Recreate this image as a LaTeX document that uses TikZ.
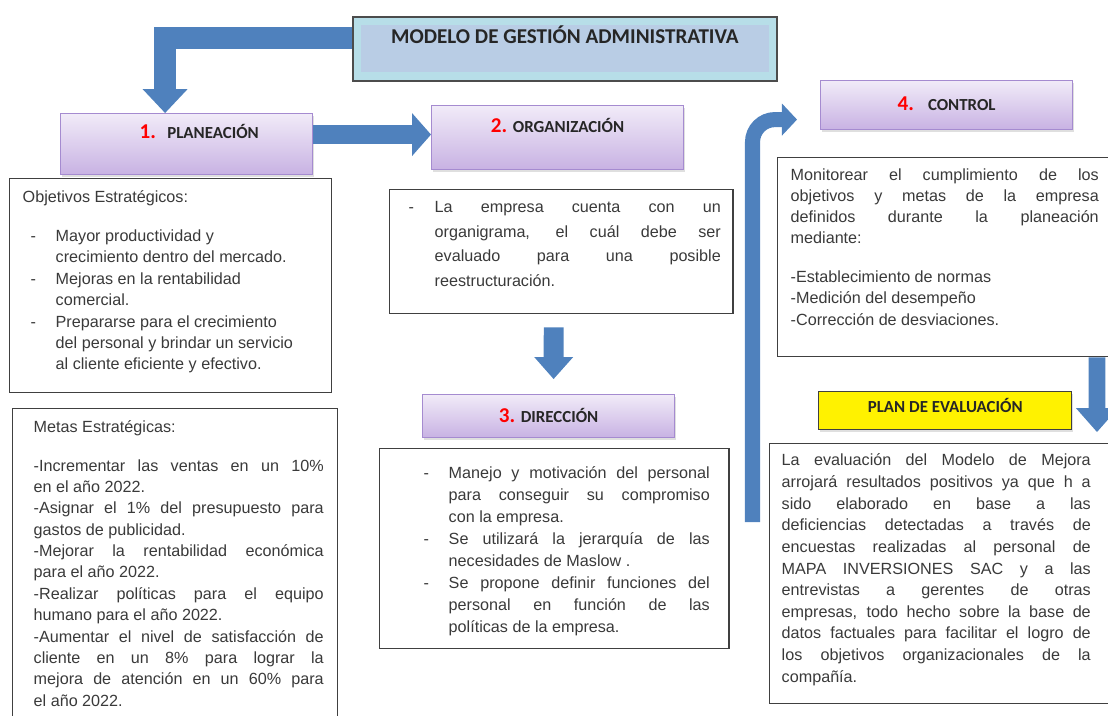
\documentclass[tikz,border=0pt]{standalone}
\usepackage{fontspec}
\setmainfont{Liberation Sans}
\newfontfamily\carlito{Carlito}
\usetikzlibrary{calc,arrows.meta,shadows}
\definecolor{azul}{HTML}{4F81BD}
\definecolor{lila}{HTML}{A58BD0}
\definecolor{lilaclaro}{HTML}{F1EBF8}
\definecolor{lilaoscuro}{HTML}{C8B2E3}
\definecolor{celeste}{HTML}{B7DEE8}
\definecolor{grisazul}{HTML}{B9CDE5}
\definecolor{texto}{HTML}{3A3A3A}
\hyphenpenalty=10000 \exhyphenpenalty=10000
\tolerance=10000 \hbadness=10000
\def\guion#1{\par\noindent\llap{\makebox[#1][l]{-}}}
\def\numero#1{{\fontsize{15}{15}\selectfont\color{red}#1}}

\begin{document}
\begin{tikzpicture}[x=0.025cm,y=-0.025cm,
	fase/.style={draw=lila, line width=0.8pt, top color=lilaclaro, bottom color=lilaoscuro,
		drop shadow={opacity=0.25, shadow xshift=1pt, shadow yshift=-1.5pt},
		anchor=north west, inner sep=0pt, minimum width=6.3cm, text=black!85,
		font=\carlito\bfseries\fontsize{12}{12}\selectfont},
	caja/.style={draw=black!75, line width=1pt, fill=white, anchor=north west,
		inner sep=0pt, text=texto, font=\fontsize{11.5}{15}\selectfont},
	flecha/.style={draw=azul, line width=#1, line join=miter}]
			%%%%% START %%%%%
			\useasboundingbox (0,0) rectangle (1108,715);
			
			% titulo
			\node[anchor=north west, draw=black!70, line width=1.2pt, fill=celeste, inner sep=0pt,
				minimum width=10.6cm, text height=0.675cm, text depth=0.925cm,
				drop shadow={opacity=0.3, shadow xshift=1pt, shadow yshift=-1pt},
				font=\carlito\bfseries\fontsize{15}{15}\selectfont, text=black!85,
				path picture={\fill[grisazul] ([shift={(6pt,-6pt)}]path picture bounding box.north west)
					rectangle ([shift={(-6pt,6pt)}]path picture bounding box.south east);}]
				(titulo) at (352,16) {MODELO DE GESTIÓN ADMINISTRATIVA};
			
			% fases
			\node[fase, text height=0.625cm, text depth=0.9cm] (planeacion) at (60,113)
				{\hspace*{18pt}\numero{1.}\hspace{8pt}PLANEACIÓN};
			\node[fase, text height=0.675cm, text depth=0.925cm] (organizacion) at (431,105)
				{\numero{2.}\hspace{4pt}ORGANIZACIÓN};
			\node[fase, text height=0.7cm, text depth=0.375cm] (direccion) at (422,394)
				{\numero{3.}\hspace{4pt}DIRECCIÓN};
			\node[fase, text height=0.75cm, text depth=0.475cm] (control) at (820,80)
				{\numero{4.}\hspace{10pt}CONTROL};
			\node[anchor=north west, draw=black!75, line width=1pt, fill=yellow, inner sep=0pt,
				minimum width=6.325cm, text height=0.525cm, text depth=0.425cm,
				drop shadow={opacity=0.25, shadow xshift=1pt, shadow yshift=-1.5pt},
				font=\carlito\bfseries\fontsize{12}{12}\selectfont, text=black!85]
				(plan) at (818,391) {PLAN DE EVALUACIÓN};
			
			% cajas de texto
			\node[caja] (objetivos) at (9,178) {\parbox[t][5.35cm][t]{8.05cm}{%
				\baselineskip=15.2pt\vspace*{8.5pt}\leftskip=0.325cm
				Objetivos Estratégicos:\par\vspace{12.5pt}\leftskip=1.15cm
				\guion{0.625cm}Mayor productividad y\newline crecimiento dentro del mercado.
				\guion{0.625cm}Mejoras en la rentabilidad\newline comercial.
				\guion{0.625cm}Prepararse para el crecimiento\newline del personal y brindar un servicio\newline al cliente eficiente y efectivo.}};
			
			\node[caja] (metas) at (12,408) {\parbox[t][7.925cm][t]{8.125cm}{%
				\baselineskip=15.2pt\leftskip=0.525cm\rightskip=0.35cm\vspace*{8.5pt}
				Metas Estratégicas:\par\vspace{12.2pt}
				-Incrementar las ventas en un 10\%\linebreak en el año 2022.\par
				-Asignar el 1\% del presupuesto para\linebreak gastos de publicidad.\par
				-Mejorar la rentabilidad económica\linebreak para el año 2022.\par
				-Realizar políticas para el equipo\linebreak humano para el año 2022.\par
				-Aumentar el nivel de satisfacción de\linebreak cliente en un 8\% para lograr la\linebreak mejora de atención en un 60\% para\linebreak el año 2022.}};
			
			\node[caja] (orgtexto) at (389,189) {\parbox[t][3.1cm][t]{8.575cm}{%
				\baselineskip=17.4pt\leftskip=1.125cm\rightskip=0.3cm\vspace*{8.5pt}
				\guion{0.65cm}La empresa cuenta con un\linebreak organigrama, el cuál debe ser\linebreak evaluado para una posible\linebreak reestructuración.}};
			
			\node[caja] (dirtexto) at (379,448) {\parbox[t][5cm][t]{8.725cm}{%
				\baselineskip=15.6pt\leftskip=1.725cm\rightskip=0.475cm\vspace*{12.8pt}
				\guion{0.625cm}Manejo y motivación del personal\linebreak para conseguir su compromiso\linebreak con la empresa.
				\guion{0.625cm}Se utilizará la jerarquía de las\linebreak necesidades de Maslow .
				\guion{0.625cm}Se propone definir funciones del\linebreak personal en función de las\linebreak políticas de la empresa.}};
			
			\node[caja] (monitoreo) at (777,157) {\parbox[t][4.975cm][t]{8.425cm}{%
				\baselineskip=15pt\leftskip=0.325cm\rightskip=0.4cm\vspace*{8pt}
				Monitorear el cumplimiento de los\linebreak objetivos y metas de la empresa\linebreak definidos durante la planeación\linebreak mediante:\par\vspace{12.7pt}
				-Establecimiento de normas\par
				-Medición del desempeño\par
				-Corrección de desviaciones.}};
			
			\node[caja] (evaluacion) at (769,443) {\parbox[t][6.5cm][t]{8.625cm}{%
				\baselineskip=15.4pt\leftskip=0.3cm\rightskip=0.6cm\vspace*{7.2pt}
				La evaluación del Modelo de Mejora\linebreak arrojará resultados positivos ya que h a\linebreak sido elaborado en base a las\linebreak deficiencias detectadas a través de\linebreak encuestas realizadas al personal de\linebreak MAPA INVERSIONES SAC y a las\linebreak entrevistas a gerentes de otras\linebreak empresas, todo hecho sobre la base de\linebreak datos factuales para facilitar el logro de\linebreak los objetivos organizacionales de la\linebreak compañía.}};
			
			% flechas
			\draw[flecha=15.6pt, -{Triangle[width=32pt,length=17pt,line width=0pt]}]
				($(titulo.west)+(0,-11)$) -| ($(planeacion.north)+(-21.5,0)$);
			\draw[flecha=13.5pt, -{Triangle[width=30.6pt,length=13.5pt,line width=0pt]}]
				($(planeacion.east |- organizacion.west)+(0,-3)$) -- ($(organizacion.west)+(0,-3)$);
			\draw[flecha=14.2pt, -{Triangle[width=27.7pt,length=15.6pt,line width=0pt]}]
				($(orgtexto.south)+(-7.5,13)$) -- ($(direccion.north)+(5,-15)$);
			\coordinate (inicio) at (752.5,522);
			\draw[flecha=10.7pt, rounded corners=16pt, -{Triangle[width=22.8pt,length=10.7pt,line width=0pt]}]
				(inicio) |- ($(control.west)+(-23,14.5)$);
			\draw[flecha=12pt, -{Triangle[width=30pt,length=17pt,line width=0pt]}]
				($(monitoreo.south east)+(-18.5,0)$) -- ($(evaluacion.north east)+(-18.5,-11)$);
			%%%%% END %%%%%
\end{tikzpicture}
\end{document}
